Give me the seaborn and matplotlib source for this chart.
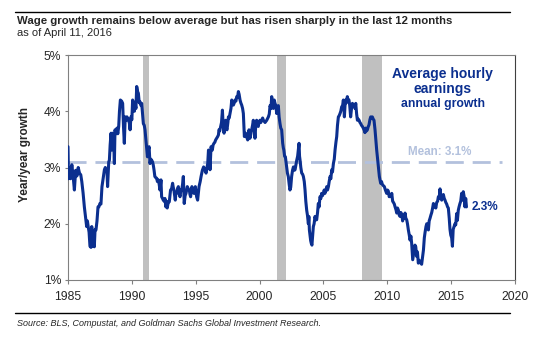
import matplotlib
matplotlib.use("Agg")
import matplotlib.pyplot as plt
import seaborn as sns
import pandas as pd
from matplotlib.lines import Line2D

# ---------------- data ----------------
years = [
 1985.00,1985.04,1985.10,1985.20,1985.30,1985.40,1985.50,1985.60,1985.70,1985.80,1985.90,
 1986.00,1986.08,1986.18,1986.28,1986.38,1986.46,1986.52,1986.58,1986.65,1986.72,1986.80,1986.86,1986.92,
 1987.00,1987.06,1987.12,1987.19,1987.27,1987.35,1987.42,1987.50,1987.58,1987.66,1987.75,1987.85,1987.92,1987.98,
 1988.05,1988.10,1988.19,1988.24,1988.30,1988.37,1988.43,1988.50,1988.57,1988.63,1988.68,1988.76,1988.83,1988.90,1988.97,
 1989.03,1989.10,1989.20,1989.28,1989.35,1989.41,1989.48,1989.54,1989.62,1989.70,1989.80,1989.86,1989.93,
 1990.00,1990.06,1990.12,1990.20,1990.25,1990.32,1990.38,1990.45,1990.51,1990.58,1990.64,1990.72,1990.77,1990.84,1990.90,1990.97,
 1991.03,1991.10,1991.16,1991.22,1991.28,1991.35,1991.42,1991.48,1991.55,1991.62,1991.68,1991.74,1991.80,1991.87,1991.94,
 1992.00,1992.07,1992.14,1992.20,1992.28,1992.33,1992.40,1992.46,1992.53,1992.59,1992.66,1992.72,1992.77,1992.85,1992.93,
 1993.03,1993.11,1993.19,1993.24,1993.29,1993.35,1993.40,1993.45,1993.50,1993.57,1993.64,1993.70,1993.77,1993.84,1993.90,1993.97,
 1994.03,1994.10,1994.17,1994.24,1994.34,1994.42,1994.50,1994.55,1994.60,1994.70,1994.78,1994.86,1994.97,
 1995.07,1995.15,1995.26,1995.35,1995.42,1995.52,1995.62,1995.73,1995.81,1995.88,1995.94,
 1996.00,1996.06,1996.12,1996.20,1996.30,1996.36,1996.43,1996.50,1996.56,1996.64,1996.72,1996.78,1996.82,1996.88,1996.95,
 1997.02,1997.09,1997.15,1997.22,1997.28,1997.35,1997.40,1997.45,1997.52,1997.56,1997.62,1997.69,1997.76,1997.82,1997.88,1997.95,
 1998.02,1998.08,1998.15,1998.21,1998.28,1998.34,1998.40,1998.47,1998.53,1998.60,1998.67,1998.73,1998.81,1998.86,1998.91,1998.98,
 1999.07,1999.12,1999.17,1999.25,1999.32,1999.38,1999.45,1999.51,1999.58,1999.64,1999.70,1999.77,1999.84,1999.90,1999.96,
 2000.03,2000.10,2000.17,2000.24,2000.30,2000.43,2000.56,2000.69,2000.76,2000.82,2000.89,2000.95,
 2001.02,2001.08,2001.15,2001.21,2001.28,2001.34,2001.40,2001.47,2001.53,2001.60,2001.66,2001.73,2001.81,2001.86,2001.90,2001.96,
 2002.02,2002.07,2002.12,2002.18,2002.25,2002.32,2002.38,2002.44,2002.51,2002.58,2002.65,2002.72,2002.78,2002.85,2002.91,2002.98,
 2003.05,2003.09,2003.13,2003.17,2003.23,2003.30,2003.37,2003.43,2003.50,2003.56,2003.62,2003.69,2003.75,2003.82,2003.86,2003.90,2003.95,
 2004.00,2004.05,2004.10,2004.15,2004.21,2004.27,2004.34,2004.40,2004.47,2004.54,2004.60,2004.66,2004.73,2004.80,2004.86,2004.93,2004.99,
 2005.06,2005.12,2005.20,2005.26,2005.32,2005.39,2005.45,2005.52,2005.58,2005.65,2005.71,2005.78,2005.85,2005.91,2005.98,
 2006.04,2006.10,2006.17,2006.23,2006.30,2006.36,2006.43,2006.50,2006.56,2006.61,2006.64,2006.69,2006.74,2006.80,2006.87,2006.93,
 2007.00,2007.06,2007.13,2007.20,2007.27,2007.34,2007.42,2007.48,2007.53,2007.60,2007.66,2007.73,2007.79,2007.86,2007.92,2007.98,
 2008.05,2008.12,2008.18,2008.25,2008.31,2008.38,2008.44,2008.50,2008.57,2008.64,2008.70,2008.77,2008.83,2008.90,2008.96,
 2009.04,2009.10,2009.17,2009.24,2009.30,2009.38,2009.43,2009.48,2009.55,2009.61,2009.68,2009.77,2009.85,2009.95,
 2010.02,2010.08,2010.15,2010.22,2010.30,2010.35,2010.42,2010.48,2010.55,2010.61,2010.68,2010.74,2010.80,2010.87,2010.94,
 2011.00,2011.06,2011.13,2011.20,2011.26,2011.33,2011.39,2011.45,2011.52,2011.58,2011.65,2011.72,2011.78,2011.85,2011.91,2011.99,
 2012.05,2012.10,2012.17,2012.23,2012.30,2012.36,2012.43,2012.50,2012.56,2012.63,2012.69,2012.76,2012.83,2012.90,2012.96,
 2013.03,2013.09,2013.15,2013.22,2013.28,2013.35,2013.41,2013.48,2013.55,2013.61,2013.68,2013.74,2013.80,2013.87,2013.94,
 2014.00,2014.06,2014.13,2014.20,2014.26,2014.33,2014.39,2014.46,2014.52,2014.58,2014.65,2014.72,2014.78,2014.85,2014.91,2014.97,
 2015.04,2015.10,2015.16,2015.23,2015.30,2015.36,2015.43,2015.49,2015.56,2015.62,2015.69,2015.75,2015.82,2015.88,2015.95,
 2016.02,2016.08,2016.14,2016.20,
]
growth = [
 3.37,2.80,3.00,2.80,3.05,2.85,2.60,2.95,2.85,3.00,2.90,
 2.87,2.75,2.55,2.30,2.10,1.95,2.05,1.95,1.85,1.60,1.58,1.95,1.60,
 1.75,1.59,1.90,1.89,2.05,2.30,2.30,2.36,2.35,2.66,2.80,2.96,3.00,2.96,
 2.95,2.66,3.10,3.13,3.40,3.61,3.31,3.61,3.55,3.07,3.67,3.60,3.70,3.60,3.73,
 4.00,4.20,4.18,4.14,3.70,3.43,3.90,3.84,3.90,3.85,3.80,3.67,3.90,
 3.85,4.20,4.15,4.00,4.15,4.05,4.44,4.35,4.32,4.15,4.17,4.10,4.14,3.95,3.78,3.75,
 3.67,3.50,3.37,3.19,3.30,3.37,3.07,3.15,3.13,3.10,3.04,2.95,2.84,2.82,2.81,
 2.75,2.78,2.70,2.60,2.78,2.48,2.45,2.42,2.40,2.45,2.30,2.40,2.28,2.38,2.39,
 2.60,2.62,2.72,2.65,2.60,2.50,2.42,2.55,2.54,2.62,2.66,2.55,2.48,2.60,2.60,2.70,
 2.84,2.36,2.50,2.54,2.66,2.62,2.60,2.52,2.48,2.66,2.58,2.54,2.66,
 2.48,2.42,2.66,2.75,2.84,2.95,3.01,2.95,2.90,3.00,3.07,
 3.31,3.20,2.96,3.37,3.31,3.40,3.43,3.45,3.49,3.52,3.55,3.58,3.67,3.65,3.73,
 3.80,4.02,3.75,3.61,3.75,3.84,3.70,3.67,3.80,3.90,3.88,3.96,4.05,4.20,4.15,4.11,
 4.15,4.20,4.18,4.26,4.25,4.35,4.30,4.20,4.15,4.11,4.05,3.96,3.55,3.60,3.61,3.55,
 3.49,3.55,3.67,3.52,3.60,3.67,3.75,3.84,3.70,3.52,3.75,3.84,3.75,3.73,3.80,
 3.84,3.80,3.84,3.88,3.84,3.80,3.84,3.90,3.95,4.10,4.05,4.26,
 4.10,4.05,4.20,4.14,4.10,3.96,4.05,4.10,3.90,3.78,3.70,3.67,3.43,3.35,3.31,3.20,
 3.19,3.10,3.01,2.90,2.84,2.70,2.60,2.65,2.84,2.95,3.01,2.95,2.96,3.05,3.13,3.20,
 3.35,3.43,3.20,3.13,3.00,2.90,2.88,2.84,2.75,2.60,2.40,2.24,2.15,2.00,2.13,1.89,1.80,
 1.70,1.65,1.62,1.78,1.95,2.00,2.13,2.07,2.07,2.20,2.36,2.30,2.48,2.45,2.54,2.50,2.54,
 2.60,2.54,2.60,2.66,2.60,2.66,2.75,2.84,2.80,2.96,2.92,3.07,3.15,3.31,3.45,
 3.55,3.75,3.90,3.92,3.96,4.00,4.08,4.10,4.20,4.05,3.90,4.10,4.20,4.15,4.26,4.20,
 4.20,4.10,3.90,4.05,4.14,4.10,4.08,4.05,4.14,3.95,3.84,3.86,3.84,3.80,3.78,3.75,
 3.73,3.70,3.67,3.62,3.70,3.65,3.67,3.72,3.76,3.85,3.90,3.88,3.90,3.86,3.84,
 3.67,3.50,3.31,3.15,3.01,2.84,2.78,2.72,2.75,2.70,2.68,2.66,2.60,2.54,
 2.60,2.58,2.48,2.50,2.48,2.54,2.40,2.38,2.35,2.30,2.25,2.19,2.28,2.24,2.15,
 2.13,2.20,2.17,2.05,2.13,2.10,2.19,2.10,2.07,2.00,1.89,1.80,1.71,1.78,1.65,1.36,
 1.45,1.53,1.62,1.59,1.42,1.50,1.30,1.35,1.32,1.30,1.28,1.40,1.53,1.75,1.85,
 1.95,2.00,1.95,1.89,2.05,2.10,2.15,2.20,2.28,2.36,2.30,2.32,2.28,2.38,2.40,
 2.48,2.45,2.62,2.45,2.42,2.50,2.52,2.45,2.42,2.38,2.35,2.30,2.28,2.10,1.90,1.80,
 1.75,1.60,1.90,1.95,2.00,1.98,2.18,2.06,2.24,2.30,2.36,2.40,2.54,2.42,2.57,
 2.48,2.30,2.45,2.30,
]
recessions = [(1990.85, 1991.35), (2001.35, 2002.05), (2008.05, 2009.55)]
mean_value = 3.1
mean_span = (1985.0, 2019.0)
y_ticks = [1, 2, 3, 4, 5]
y_tick_labels = ["1%", "2%", "3%", "4%", "5%"]
x_ticks = [1985, 1990, 1995, 2000, 2005, 2010, 2015, 2020]

title = "Wage growth remains below average but has risen sharply in the last 12 months"
subtitle = "as of April 11, 2016"
source = "Source: BLS, Compustat, and Goldman Sachs Global Investment Research."
y_label = "Year/year growth"

# ---------------- style ----------------
sns.set_style("white")
plt.rcParams["font.family"] = ["Liberation Sans", "DejaVu Sans"]

BLUE = "#0b2f8f"
MEANC = "#b3c1dd"
BAR = "#c0c0c0"

W, H = 553, 356
fig = plt.figure(figsize=(W / 100, H / 100), dpi=100)
ax = fig.add_axes([68 / W, 1 - 280 / H, (515 - 68) / W, (280 - 55) / H])

for a, b in recessions:
    ax.axvspan(a, b, color=BAR, lw=0, zorder=0)

ax.plot(list(mean_span), [mean_value, mean_value], color=MEANC, lw=2.0,
        dashes=(6.5, 3.2), zorder=1)

df = pd.DataFrame({"year": years, "growth": growth})
sns.lineplot(data=df, x="year", y="growth", ax=ax, color=BLUE, lw=2.2,
             estimator=None, sort=False, zorder=3)

ax.set_xlim(1985, 2020)
ax.set_ylim(1, 5)
ax.set_xticks(x_ticks)
ax.set_xticklabels([str(t) for t in x_ticks])
ax.set_yticks(y_ticks)
ax.set_yticklabels(y_tick_labels)
ax.set_xlabel("")
ax.set_ylabel(y_label, fontsize=8.5, fontweight="bold")
ax.yaxis.set_label_coords(-0.083, 0.56)
ax.tick_params(axis="x", length=3, width=0.8, color="#808080", pad=5,
               labelsize=8.7, direction="out", bottom=True)
ax.tick_params(axis="y", length=2, width=0.8, color="#808080", pad=3,
               labelsize=8.7, direction="out", left=True)
for s in ax.spines.values():
    s.set_color("#808080")
    s.set_linewidth(0.8)
ax.spines["right"].set_color("#404040")
ax.grid(False)

# annotations
ax.text(2014.35, 4.53, "Average hourly\nearnings", color=BLUE, fontsize=10,
        fontweight="bold", ha="center", va="center", linespacing=1.05)
ax.text(2014.35, 4.13, "annual growth", color=BLUE, fontsize=8.8,
        fontweight="bold", ha="center", va="center")
ax.text(2014.1, 3.28, "Mean: 3.1%", color=MEANC, fontsize=8.4,
        fontweight="bold", ha="center", va="center")
ax.text(2016.6, 2.3, "2.3%", color=BLUE, fontsize=8.5,
        fontweight="bold", ha="left", va="center")

# header / footer
fig.add_artist(Line2D([15 / W, 510 / W], [1 - 12 / H, 1 - 12 / H],
                      color="black", lw=1.0))
fig.text(17 / W, 1 - 20.5 / H, title, fontsize=8.2, fontweight="bold",
         ha="left", va="center")
fig.text(17 / W, 1 - 33.5 / H, subtitle, fontsize=8, ha="left", va="center")
fig.add_artist(Line2D([15 / W, 510 / W], [1 - 313 / H, 1 - 313 / H],
                      color="black", lw=1.0))
fig.text(17 / W, 1 - 323.5 / H, source, fontsize=6.5, style="italic",
         ha="left", va="center")

fig.savefig("out.png", dpi=100)
